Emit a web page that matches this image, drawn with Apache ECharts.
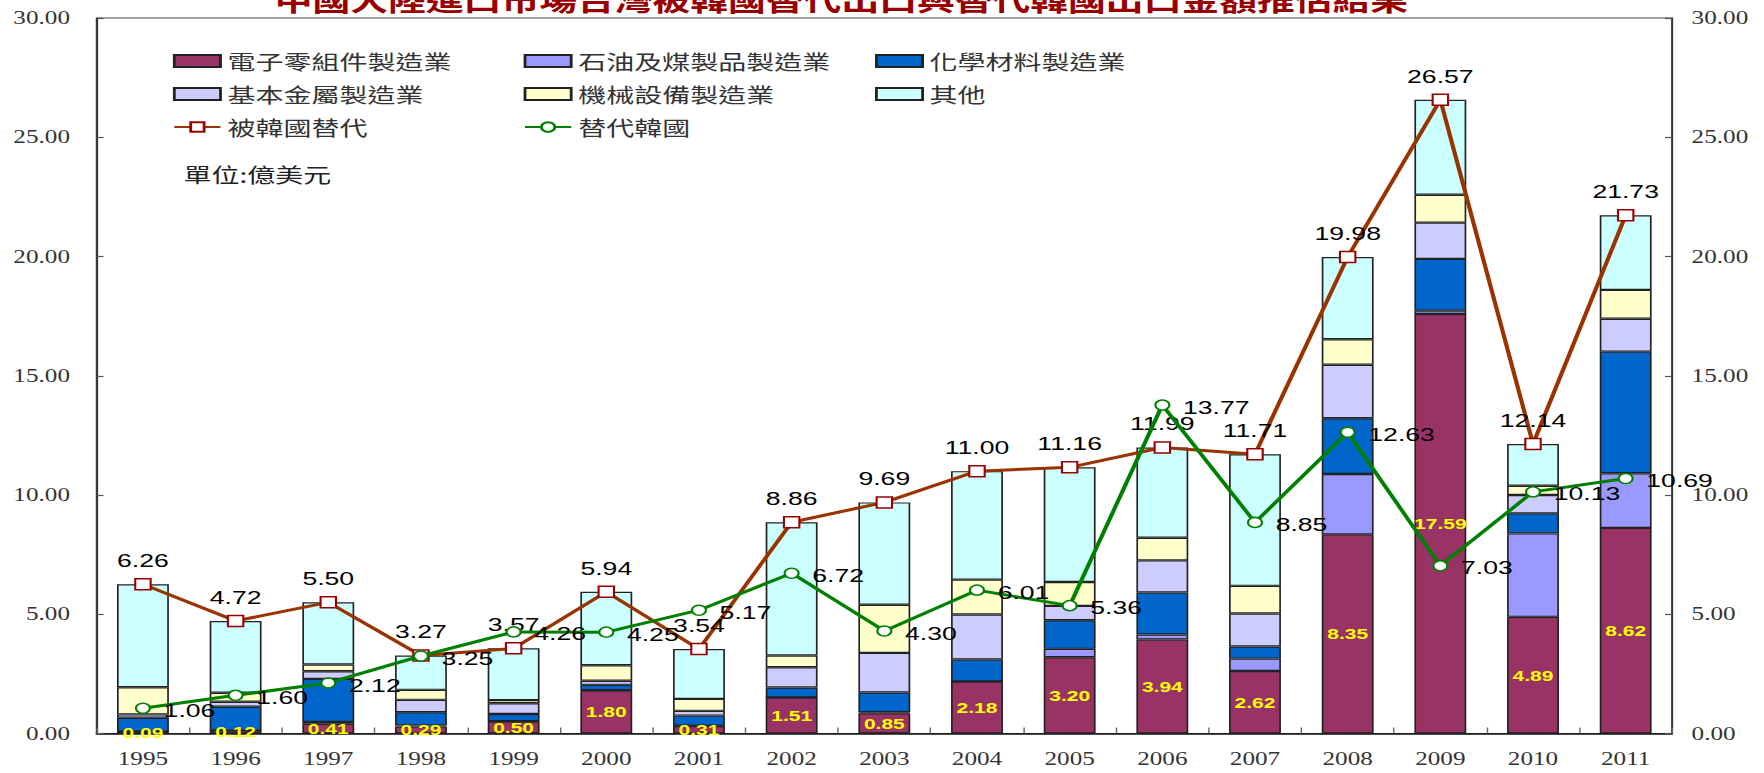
<!DOCTYPE html>
<html>
<head>
<meta charset="utf-8">
<script src="https://cdn.jsdelivr.net/npm/echarts@6/dist/echarts.min.js"></script>
<style>
  html, body { margin: 0; padding: 0; background: #fff; overflow: hidden; }
  /* chart is laid out narrow and widened horizontally */
  #chart { width: 1260px; height: 773px; transform: scaleX(1.4); transform-origin: 0 0; }
</style>
</head>
<body>
<div id="chart"></div>
<script>
const years = ['1995','1996','1997','1998','1999','2000','2001','2002','2003','2004','2005','2006','2007','2008','2009','2010','2011'];

// 單位: 億美元
const electronics = [0.09,0.12,0.41,0.29,0.50,1.80,0.31,1.51,0.85,2.18,3.20,3.94,2.62,8.35,17.59,4.89,8.62];
const petroleum   = [0.00,0.01,0.07,0.05,0.02,0.02,0.02,0.00,0.04,0.00,0.35,0.21,0.52,2.53,0.14,3.50,2.29];
const chemicals   = [0.57,0.99,1.81,0.55,0.30,0.22,0.42,0.42,0.83,0.92,1.20,1.76,0.51,2.34,2.17,0.84,5.10];
const basicMetals = [0.14,0.21,0.32,0.52,0.45,0.17,0.20,0.85,1.66,1.89,0.60,1.35,1.38,2.24,1.52,0.77,1.38];
const machinery   = [1.14,0.38,0.28,0.42,0.13,0.65,0.50,0.49,2.02,1.46,1.00,0.95,1.16,1.07,1.17,0.39,1.21];
const others      = [4.32,3.01,2.61,1.44,2.17,3.08,2.09,5.59,4.29,4.55,4.81,3.78,5.52,3.45,3.98,1.75,3.13];

const replacedByKorea = [6.26,4.72,5.50,3.27,3.57,5.94,3.54,8.86,9.69,11.00,11.16,11.99,11.71,19.98,26.57,12.14,21.73];
const replacingKorea  = [1.06,1.60,2.12,3.25,4.26,4.25,5.17,6.72,4.30,6.01,5.36,13.77,8.85,12.63,7.03,10.13,10.69];

const yTicks = { min: 0, max: 30, interval: 5 };

const titleText = '中國大陸進口市場台灣被韓國替代出口與替代韓國出口金額推估結果';
const unitText = '單位:億美元';

const cjk = '"Noto Sans CJK TC", "Noto Sans CJK SC", sans-serif';
const serif = '"Liberation Serif", "DejaVu Serif", serif';
const sans = '"Liberation Sans", Arial, sans-serif';

const barBorder = { borderColor: '#222', borderWidth: 1.2 };

function stackBar(name, data, color, withLabel) {
  const s = {
    name, type: 'bar', stack: 'total', data,
    barWidth: '56%',
    itemStyle: Object.assign({ color }, barBorder),
    emphasis: { disabled: true }
  };
  if (withLabel) {
    s.label = {
      show: true, position: 'inside',
      color: '#FFFF00', fontFamily: sans, fontWeight: 'bold', fontSize: 15,
      formatter: p => p.value.toFixed(2)
    };
  }
  return s;
}

const legendRows = [
  [['電子零組件製造業','石油及煤製品製造業','化學材料製造業'], 51],
  [['基本金屬製造業','機械設備製造業','其他'], 84],
  [['被韓國替代','替代韓國'], 117]
];
const legendCols = [123.5, 374, 625];
const barNames = new Set(['電子零組件製造業','石油及煤製品製造業','化學材料製造業','基本金屬製造業','機械設備製造業','其他']);

const legends = [];
legendRows.forEach(([names, top]) => {
  names.forEach((n, i) => {
    const item = { name: n };
    if (barNames.has(n)) item.icon = 'rect';
    legends.push({
      data: [item], left: legendCols[i], top,
      padding: 0, itemWidth: 33, itemHeight: 12, selectedMode: false,
      textStyle: { fontFamily: cjk, fontSize: 20, color: '#333' }
    });
  });
});

const chart = echarts.init(document.getElementById('chart'), null, { renderer: 'svg' });

const yAxisBase = {
  type: 'value', min: yTicks.min, max: yTicks.max, interval: yTicks.interval,
  splitLine: { show: false },
  axisLine: { show: true, lineStyle: { color: '#333', width: 1.2 } },
  axisTick: { show: true, inside: true, length: 5, lineStyle: { color: '#555', width: 1.2 } },
  axisLabel: { fontFamily: serif, fontSize: 18, color: '#333', formatter: v => v.toFixed(2) }
};

chart.setOption({
  animation: false,
  backgroundColor: '#fff',
  grid: {
    left: 69, right: 65.7, top: 18, bottom: 39.5,
    show: true, borderColor: '#444', borderWidth: 1.2, backgroundColor: 'transparent'
  },
  legend: legends,
  graphic: [
    {
      type: 'text', x: 601, y: 13, z: 10,
      style: { text: titleText, font: 'bold 27px ' + cjk, fill: '#990000', align: 'center', verticalAlign: 'bottom' }
    },
    {
      type: 'text', x: 131, y: 174, z: 10,
      style: { text: unitText, font: '20px ' + cjk, fill: '#222', verticalAlign: 'middle' }
    }
  ],
  xAxis: {
    type: 'category', data: years,
    axisLine: { lineStyle: { color: '#111', width: 1.5 } },
    axisTick: { show: true, inside: true, length: 6, alignWithLabel: false, lineStyle: { color: '#666' } },
    axisLabel: { fontFamily: serif, fontSize: 18, color: '#333', margin: 16 }
  },
  yAxis: [
    Object.assign({}, yAxisBase, { position: 'left', axisLabel: Object.assign({}, yAxisBase.axisLabel, { margin: 19 }) }),
    Object.assign({}, yAxisBase, { position: 'right', axisLabel: Object.assign({}, yAxisBase.axisLabel, { margin: 14 }) })
  ],
  series: [
    stackBar('電子零組件製造業', electronics, '#993366', true),
    stackBar('石油及煤製品製造業', petroleum, '#9999FF'),
    stackBar('化學材料製造業', chemicals, '#0066CC'),
    stackBar('基本金屬製造業', basicMetals, '#CCCCFF'),
    stackBar('機械設備製造業', machinery, '#FFFFCC'),
    stackBar('其他', others, '#CCFFFF'),
    {
      name: '被韓國替代', type: 'line', data: replacedByKorea, z: 5,
      symbol: 'rect', symbolSize: [11, 11],
      lineStyle: { color: '#993300', width: 3 },
      itemStyle: { color: '#fff', borderColor: '#990000', borderWidth: 1.5 },
      label: {
        show: true, position: 'top', distance: 8,
        fontFamily: sans, fontSize: 19, color: '#000',
        formatter: p => p.value.toFixed(2)
      },
      emphasis: { disabled: true }
    },
    {
      name: '替代韓國', type: 'line', data: replacingKorea, z: 6,
      symbol: 'circle', symbolSize: 10,
      lineStyle: { color: '#008000', width: 3 },
      itemStyle: { color: '#fff', borderColor: '#008000', borderWidth: 1.5 },
      label: {
        show: true, position: 'right', distance: 9, offset: [0, 2],
        fontFamily: sans, fontSize: 19, color: '#000',
        formatter: p => p.value.toFixed(2)
      },
      emphasis: { disabled: true }
    }
  ]
});
</script>
</body>
</html>
